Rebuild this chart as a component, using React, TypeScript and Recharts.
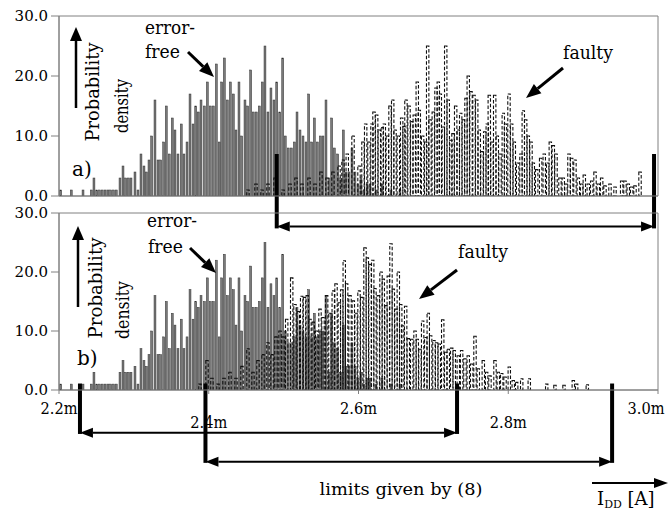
import React from 'react';
import { ComposedChart, Bar, XAxis, YAxis, ReferenceLine, ReferenceArea } from 'recharts';

const SERIF = "'DejaVu Serif', 'Liberation Serif', serif";
const W = 668;
const H = 512;

// x axis (supply current I_DD in A) and y axis (probability density)
const xTicks = [2.2, 2.4, 2.6, 2.8, 3.0];
const xTickLabels = ['2.2m', '2.4m', '2.6m', '2.8m', '3.0m'];
const yTicks = [0, 10, 20, 30];

// error-free circuits (identical in both panels): bar position (mA) and density
const errorFreeAmp = [
  2.2023, 2.2164, 2.2321, 2.2431, 2.2467, 2.2504, 2.2541, 2.2578, 2.2616, 2.2653,
  2.2690, 2.2728, 2.2765, 2.2815, 2.2855, 2.2891, 2.2926, 2.2962, 2.3015, 2.3055,
  2.3095, 2.3135, 2.3166, 2.3202, 2.3238, 2.3282, 2.3322, 2.3358, 2.3398, 2.3433,
  2.3473, 2.3513, 2.3549, 2.3589, 2.3633, 2.3669, 2.3710, 2.3750, 2.3790, 2.3826,
  2.3860, 2.3897, 2.3941, 2.3981, 2.4021, 2.4061, 2.4101, 2.4140, 2.4173, 2.4208,
  2.4248, 2.4288, 2.4328, 2.4364, 2.4404, 2.4440, 2.4484, 2.4520, 2.4560, 2.4595,
  2.4635, 2.4675, 2.4715, 2.4751, 2.4791, 2.4831, 2.4871, 2.4908, 2.4948, 2.4988,
  2.5022, 2.5062, 2.5103, 2.5143, 2.5179, 2.5219, 2.5259, 2.5299, 2.5335, 2.5375,
  2.5410, 2.5450, 2.5490, 2.5526, 2.5566, 2.5606, 2.5642, 2.5677, 2.5722, 2.5762,
  2.5797, 2.5833, 2.5873, 2.5913, 2.5953, 2.5993, 2.6033, 2.6073, 2.6114, 2.6154,
  2.6234, 2.6314, 2.6434, 2.6554,
];
const errorFreeDensity = [
  1, 1, 1, 1, 3, 1, 1, 1, 1, 1,
  1, 1, 1, 3, 5, 3, 3, 3, 4, 1,
  7, 5, 4, 6, 10, 16, 6, 6, 9, 15,
  7, 13, 11, 7, 12, 7, 9, 17, 12, 15,
  14, 16, 15, 19, 15, 15, 22, 9, 19, 23,
  16, 19, 17, 11, 19, 10, 16, 15, 21, 14,
  14, 15, 19, 25, 14, 18, 16, 19, 14, 23,
  10, 8, 8, 9, 14, 11, 10, 9, 17, 9,
  13, 9, 10, 10, 16, 3, 13, 8, 7, 3,
  11, 4, 4, 8, 4, 2, 3, 1, 2, 2,
  1, 2, 1, 1,
];

// faulty circuits, panel a)
const faultyAmpA = [
  2.4524, 2.4631, 2.4711, 2.4791, 2.4885, 2.4992, 2.5085, 2.5165, 2.5245, 2.5339,
  2.5419, 2.5499, 2.5579, 2.5659, 2.5740, 2.5793,
  2.5850, 2.5927, 2.6007, 2.6060, 2.6096, 2.6140, 2.6180, 2.6207, 2.6243, 2.6278,
  2.6318, 2.6345, 2.6385, 2.6421, 2.6457, 2.6488, 2.6532, 2.6577, 2.6608, 2.6634,
  2.6675, 2.6711, 2.6745, 2.6785, 2.6812, 2.6857, 2.6898, 2.6924, 2.6955, 2.6999,
  2.7035, 2.7066, 2.7093, 2.7133, 2.7165, 2.7199, 2.7235, 2.7262, 2.7298, 2.7333,
  2.7365, 2.7400, 2.7436, 2.7466, 2.7503, 2.7543, 2.7579, 2.7613, 2.7649, 2.7686,
  2.7720, 2.7747, 2.7783, 2.7819, 2.7854, 2.7890, 2.7934, 2.7963, 2.8010, 2.8046,
  2.8081, 2.8126, 2.8170, 2.8201, 2.8233, 2.8268, 2.8304, 2.8335, 2.8380, 2.8433,
  2.8481, 2.8527, 2.8562, 2.8602, 2.8638, 2.8691, 2.8735, 2.8771, 2.8811, 2.8847,
  2.8891, 2.8936, 2.8981, 2.9016, 2.9069, 2.9115, 2.9159, 2.9203, 2.9248, 2.9292,
  2.9359, 2.9426, 2.9515, 2.9559, 2.9603, 2.9649, 2.9693, 2.9760,
];
const faultyDensityA = [
  1, 2, 1, 2, 3, 1, 2, 3, 2, 3,
  2, 4, 3, 4, 5, 6,
  7, 10, 5, 9, 12, 9, 12, 14, 13.5, 11,
  11.4, 12, 10, 15, 16, 11, 10, 13, 11.6, 16,
  15, 12.4, 13.5, 19, 14.3, 10, 9, 25, 12.7, 14,
  18, 19, 17, 11.5, 25, 16, 9.3, 10.4, 15, 11,
  13.8, 12.7, 16.3, 20, 17.4, 16.8, 16, 11, 7.4, 10.7,
  12, 16.8, 9, 16.8, 10, 7, 13.8, 12, 17, 12,
  9, 5.5, 7, 14.2, 12.7, 10, 9, 5.5, 4.4, 6.3,
  7, 5.5, 9, 8.4, 7, 3, 3, 2, 7, 6.3,
  6, 3, 2, 3.5, 2, 2.5, 4, 2, 3, 1.7,
  2, 1.5, 2.5, 2.5, 2, 1.5, 1.7, 4,
];

// faulty circuits, panel b)
const faultyAmpB = [
  2.3883, 2.3977, 2.4043, 2.4124, 2.4204, 2.4284, 2.4364, 2.4444, 2.4524, 2.4591,
  2.4658, 2.4725, 2.4791, 2.4845, 2.4898, 2.4952, 2.4992,
  2.5041, 2.5108, 2.5152, 2.5196, 2.5241, 2.5279, 2.5316, 2.5352, 2.5396, 2.5442,
  2.5486, 2.5526, 2.5575, 2.5619, 2.5663, 2.5700, 2.5744, 2.5776, 2.5810, 2.5842,
  2.5887, 2.5931, 2.5967, 2.6007, 2.6043, 2.6087, 2.6118, 2.6154, 2.6190, 2.6220,
  2.6264, 2.6301, 2.6331, 2.6367, 2.6398, 2.6434, 2.6465, 2.6501, 2.6532, 2.6564,
  2.6590, 2.6630, 2.6665, 2.6711, 2.6755, 2.6785, 2.6821, 2.6857, 2.6898, 2.6932,
  2.6964, 2.7008, 2.7044, 2.7079, 2.7125, 2.7165, 2.7199, 2.7245, 2.7279, 2.7333,
  2.7378, 2.7422, 2.7466, 2.7512, 2.7556, 2.7600, 2.7667, 2.7712, 2.7756, 2.7823,
  2.7867, 2.7913, 2.7957, 2.8014, 2.8067, 2.8113, 2.8180, 2.8281, 2.8514, 2.8624,
  2.8745, 2.8869, 2.8914, 2.9056,
];
const faultyDensityB = [
  1, 5, 2, 1, 2, 3, 2, 4, 7, 3,
  5, 6, 8, 6, 9, 10, 9,
  12, 19, 14.5, 13.3, 15.9, 15.7, 16, 12, 11.5, 10,
  13.7, 12.3, 16, 13, 16.8, 18, 14.8, 17, 21.9, 18,
  16, 15.1, 13, 16.8, 15.7, 24.1, 22.4, 21.3, 22, 17.2,
  16, 20, 18.8, 14.3, 19.3, 24.8, 17.1, 13.7, 20, 14.5,
  10.9, 14.2, 8.7, 8.6, 10, 8.6, 6.9, 11.7, 8.9, 13,
  9.2, 8.4, 8, 7.8, 11.9, 6.4, 6.9, 7.1, 6.7, 5.8,
  6.7, 5.3, 5.8, 4.4, 9.1, 3.6, 5, 3, 2.4, 5,
  3, 2.8, 2.2, 3.9, 1.6, 1.3, 1.9, 1.9, 1, 0.8,
  0.8, 1.6, 1, 0.9,
];

// test limits (mA)
const limitsA = [2.4908, 2.9947];
const limitsB1 = [2.228, 2.7316];
const limitsB2 = [2.3956, 2.9387];

type Row = { amp: number; density: number; kind: 'ef' | 'fa' };
const buildRows = (fx: number[], fy: number[]): Row[] => [
  ...errorFreeAmp.map((amp, i) => ({ amp, density: errorFreeDensity[i], kind: 'ef' as const })),
  ...fx.map((amp, i) => ({ amp, density: fy[i], kind: 'fa' as const })),
];
const rowsA = buildRows(faultyAmpA, faultyDensityA);
const rowsB = buildRows(faultyAmpB, faultyDensityB);

const HistBar = (p: any) => {
  const { x, y, width, height } = p;
  const kind = p.kind ?? (p.payload && p.payload.kind);
  if (![x, y, width, height].every((v) => Number.isFinite(v)) || height <= 0) return <g />;
  const cx = x + width / 2;
  if (kind === 'ef') {
    const w = 1.9;
    return <rect x={cx - w / 2} y={y} width={w} height={height} fill="#7a7a7a" stroke="#303030" strokeWidth={0.5} />;
  }
  const w = 2.4;
  return (
    <rect x={cx - w / 2} y={y} width={w} height={height} fill="none" stroke="#111" strokeWidth={1.1} strokeDasharray="3.5 2" />
  );
};

const arrowPoly = (x1: number, y1: number, x2: number, y2: number, hl: number, hw: number) => {
  const dx = x2 - x1;
  const dy = y2 - y1;
  const L = Math.hypot(dx, dy) || 1;
  const ux = dx / L;
  const uy = dy / L;
  const bx = x2 - ux * hl;
  const by = y2 - uy * hl;
  const px = (-uy * hw) / 2;
  const py = (ux * hw) / 2;
  return { bx, by, pts: `${x2},${y2} ${bx + px},${by + py} ${bx - px},${by - py}` };
};

const Arrow = ({ x1, y1, x2, y2, sw = 3, hl = 15, hw = 12 }: any) => {
  const a = arrowPoly(x1, y1, x2, y2, hl, hw);
  return (
    <g>
      <line x1={x1} y1={y1} x2={a.bx} y2={a.by} stroke="#000" strokeWidth={sw} />
      <polygon points={a.pts} fill="#000" />
    </g>
  );
};

const DoubleArrow = (p: any) => {
  const { x1, y1, x2, y2 } = p;
  if (![x1, y1, x2, y2].every((v) => Number.isFinite(v))) return <g />;
  const e = arrowPoly(x1, y1, x2, y2, 13, 10);
  const s = arrowPoly(x2, y2, x1, y1, 13, 10);
  return (
    <g>
      <line x1={s.bx} y1={s.by} x2={e.bx} y2={e.by} stroke="#000" strokeWidth={2} />
      <polygon points={e.pts} fill="#000" />
      <polygon points={s.pts} fill="#000" />
    </g>
  );
};

const YTick = (p: any) => (
  <text x={p.x} y={p.y + 5} textAnchor="end" fontFamily={SERIF} fontSize={15} fill="#000">
    {Number(p.payload.value).toFixed(1)}
  </text>
);

const XTick = (p: any) => {
  const i = xTicks.findIndex((t) => Math.abs(t - p.payload.value) < 1e-9);
  if (i < 0) return <g />;
  const lower = i % 2 === 1;
  const last = i === xTicks.length - 1;
  return (
    <text
      x={last ? p.x - 12 : p.x}
      y={p.y + (lower ? 32 : 18)}
      textAnchor="middle"
      fontFamily={SERIF}
      fontSize={16}
      textLength={37}
      lengthAdjust="spacingAndGlyphs"
      fill="#000"
    >
      {xTickLabels[i]}
    </text>
  );
};

const limitLine = (x: number, yTop: number, yBottom: number, key: string) => (
  <ReferenceLine
    key={key}
    segment={[{ x, y: yTop }, { x, y: yBottom }]}
    stroke="#000"
    strokeWidth={4}
    ifOverflow="visible"
  />
);
const limitArrow = (a: number, b: number, y: number, key: string) => (
  <ReferenceLine key={key} segment={[{ x: a, y }, { x: b, y }]} ifOverflow="visible" shape={DoubleArrow} />
);

const Panel = ({ rows, top, bottom, labels, extras }: any) => (
  <div style={{ position: 'absolute', left: 0, top: 0 }}>
    <ComposedChart width={W} height={H} data={rows} margin={{ top, right: 10, bottom, left: 8 }}>
      <XAxis
        type="number"
        dataKey="amp"
        domain={[2.2, 3.0]}
        ticks={xTicks}
        interval={0}
        allowDataOverflow
        stroke="#808080"
        tickSize={4}
        height={30}
        tick={labels ? (tp: any) => <XTick {...tp} /> : false}
      />
      <YAxis
        type="number"
        domain={[0, 30]}
        ticks={yTicks}
        interval={0}
        allowDataOverflow
        width={51}
        stroke="#808080"
        tickSize={8}
        tickMargin={3}
        tick={(tp: any) => <YTick {...tp} />}
      />
      <ReferenceArea x1={2.2} x2={3.0} y1={0} y2={30} fill="none" stroke="#808080" ifOverflow="visible" />
      <Bar dataKey="density" isAnimationActive={false} barSize={2} shape={HistBar} />
      {extras}
    </ComposedChart>
  </div>
);

const T = (props: any) => <text fontFamily={SERIF} fill="#000" fontSize={18} {...props} />;

export default function App() {
  return (
    <div style={{ position: 'absolute', left: 0, top: 0, width: W, height: H, background: '#fff', overflow: 'hidden' }}>
      <Panel
        rows={rowsA}
        top={16}
        bottom={286}
        labels={false}
        extras={[
          limitLine(limitsA[0], 7, -5.4, 'la0'),
          limitLine(limitsA[1], 7, -5.4, 'la1'),
          limitArrow(limitsA[0], limitsA[1], -5.1, 'aa'),
        ]}
      />
      <Panel
        rows={rowsB}
        top={213}
        bottom={92}
        labels={true}
        extras={[
          limitLine(limitsB1[0], 1.1, -7.45, 'lb0'),
          limitLine(limitsB1[1], 1.1, -7.45, 'lb1'),
          limitLine(limitsB2[0], 1.1, -12.35, 'lb2'),
          limitLine(limitsB2[1], 1.1, -12.35, 'lb3'),
          limitArrow(limitsB1[0], limitsB1[1], -7.25, 'ab1'),
          limitArrow(limitsB2[0], limitsB2[1], -12.15, 'ab2'),
        ]}
      />
      <svg width={W} height={H} style={{ position: 'absolute', left: 0, top: 0, pointerEvents: 'none' }}>
        {/* panel a annotations */}
        <Arrow x1={76} y1={108} x2={76} y2={27} sw={2.5} hl={14} hw={12} />
        <T textAnchor="middle" textLength={99} lengthAdjust="spacingAndGlyphs" transform="translate(99,92) rotate(-90)">Probability</T>
        <T textAnchor="middle" textLength={54} lengthAdjust="spacingAndGlyphs" transform="translate(128,106) rotate(-90)">density</T>
        <T fontSize={20} x={72} y={176}>a)</T>
        <T x={145} y={34} textLength={50} lengthAdjust="spacingAndGlyphs">error-</T>
        <T x={145} y={58} textLength={35} lengthAdjust="spacingAndGlyphs">free</T>
        <Arrow x1={188} y1={52} x2={214} y2={77} />
        <T x={563} y={59} textLength={50} lengthAdjust="spacingAndGlyphs">faulty</T>
        <Arrow x1={563} y1={68} x2={526} y2={98} />
        {/* panel b annotations */}
        <Arrow x1={78} y1={307} x2={78} y2={226} sw={2.5} hl={14} hw={12} />
        <T textAnchor="middle" textLength={101} lengthAdjust="spacingAndGlyphs" transform="translate(102,288) rotate(-90)">Probability</T>
        <T textAnchor="middle" textLength={58} lengthAdjust="spacingAndGlyphs" transform="translate(129,310) rotate(-90)">density</T>
        <T fontSize={20} x={77} y={365}>b)</T>
        <T x={147} y={227} textLength={50} lengthAdjust="spacingAndGlyphs">error-</T>
        <T x={148} y={253} textLength={35} lengthAdjust="spacingAndGlyphs">free</T>
        <Arrow x1={190} y1={248} x2={216} y2={273} />
        <T x={458} y={258} textLength={50} lengthAdjust="spacingAndGlyphs">faulty</T>
        <Arrow x1={457} y1={270} x2={419} y2={299} />
        {/* bottom */}
        <T fontSize={17} x={401} y={495} textAnchor="middle" textLength={163} lengthAdjust="spacingAndGlyphs">limits given by (8)</T>
        <Arrow x1={592} y1={483} x2={668} y2={483} sw={2} hl={14} hw={10} />
        <T fontSize={18} x={597} y={505}>
          I<tspan fontSize={11} dy={3}>DD</tspan>
          <tspan dy={-3}> [A]</tspan>
        </T>
      </svg>
    </div>
  );
}
